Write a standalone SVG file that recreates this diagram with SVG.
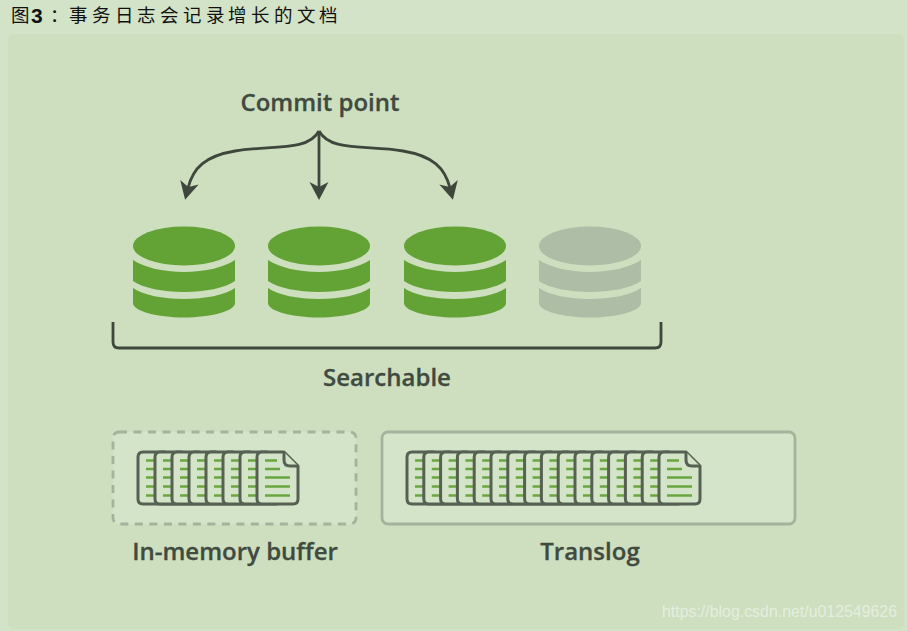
<svg xmlns="http://www.w3.org/2000/svg" width="907" height="631" viewBox="0 0 907 631">
<style>
.lbl{font-family:"Open Sans","Noto Sans",sans-serif;font-weight:600;font-size:24px;fill:#414a3f;text-anchor:middle;stroke:#414a3f;stroke-width:.3}
.ttl{font-family:"Noto Sans CJK SC",sans-serif;font-size:18.500px;fill:#111}
.conn{fill:none;stroke:#3f473d;stroke-width:2.8}
.box{fill:#d4e4c8;stroke:#a2b49b;stroke-width:2.8}
.d{fill:#d4e4c8;stroke:#566053;stroke-width:3;stroke-linejoin:round}
.dl{stroke:#6aa640;stroke-width:2.600;fill:none}
</style>
<defs>
<marker id="ah" markerUnits="userSpaceOnUse" markerWidth="22" markerHeight="22" refX="7" refY="11" orient="auto" viewBox="0 0 22 22"><path d="M1,1.500 L19,11 L1,20.500 L6,11 Z" fill="#3f473d"/></marker>
<g id="cyl">
<ellipse cx="51" cy="20" rx="51" ry="19.500"/>
<path d="M0,34 C10,41 30,46 51,46 C72,46 92,41 102,34 V55 C92,62 72,66 51,66 C30,66 10,62 0,55 Z"/>
<path d="M0,62 C10,69 30,73 51,73 C72,73 92,69 102,62 V77 C102,85 78,91.500 51,91.500 C24,91.500 0,85 0,77 Z"/>
</g>
<g id="doc">
<path class="d" d="M5,0 H27 L41,14 V47 Q41,52 36,52 H5 Q0,52 0,47 V5 Q0,0 5,0 Z"/>
<path class="d" d="M27,0 V8 Q27,14 33,14 H41" fill="none"/>
<path class="dl" d="M8,8.500H20 M8,17H23 M8,25.500H33 M8,34.500H33 M8,43.500H33"/>
</g>
</defs>
<rect id="page" width="907" height="631" fill="#d3e3c7"/>
<rect id="panel" x="8" y="34" width="896" height="595" rx="6" fill="#cddfbf"/>
<g id="title" class="ttl">
<text x="11" y="22">图</text>
<text x="31" y="23" style="font-family:'Liberation Sans',sans-serif;font-weight:700;font-size:21px;fill:#111">3</text>
<text x="50" y="22">：</text>
<text x="69 92 115 137 160 183 206 228 251 274 297 319" y="22">事务日志会记录增长的文档</text>
</g>
<g id="commit-point"><text class="lbl" x="320" y="111">Commit point</text></g>
<g id="connectors">
<path class="conn" marker-end="url(#ah)" d="M319,131 C308,152 270,145 235,151 C205,156 193,168 188,188"/>
<path class="conn" marker-end="url(#ah)" d="M319,131 V188"/>
<path class="conn" marker-end="url(#ah)" d="M319,131 C330,152 368,145 403,151 C433,156 445,168 450,188"/>
<path class="conn" d="M113,322 V342 Q113,348 119,348 H655 Q661,348 661,342 V322"/>
</g>
<g id="segment-1" fill="#63a335"><use href="#cyl" x="133" y="226"/></g>
<g id="segment-2" fill="#63a335"><use href="#cyl" x="268" y="226"/></g>
<g id="segment-3" fill="#63a335"><use href="#cyl" x="404" y="226"/></g>
<g id="segment-4" fill="#adbda6"><use href="#cyl" x="539" y="226"/></g>
<g id="searchable"><text class="lbl" x="387" y="386">Searchable</text></g>
<g id="buffer">
<rect class="box" x="113" y="432" width="243" height="92" rx="6" stroke-dasharray="8 6.500"/>
<use href="#doc" x="138" y="452"/><use href="#doc" x="155" y="452"/><use href="#doc" x="172" y="452"/><use href="#doc" x="189" y="452"/><use href="#doc" x="206" y="452"/><use href="#doc" x="223" y="452"/><use href="#doc" x="240" y="452"/><use href="#doc" x="257" y="452"/>
<text class="lbl" x="235" y="560">In-memory buffer</text>
</g>
<g id="translog">
<rect class="box" x="382" y="432" width="413" height="92" rx="6"/>
<use href="#doc" x="407" y="452"/><use href="#doc" x="423.800" y="452"/><use href="#doc" x="440.600" y="452"/><use href="#doc" x="457.400" y="452"/><use href="#doc" x="474.200" y="452"/><use href="#doc" x="491" y="452"/><use href="#doc" x="507.800" y="452"/><use href="#doc" x="524.600" y="452"/><use href="#doc" x="541.400" y="452"/><use href="#doc" x="558.200" y="452"/><use href="#doc" x="575" y="452"/><use href="#doc" x="591.800" y="452"/><use href="#doc" x="608.600" y="452"/><use href="#doc" x="625.400" y="452"/><use href="#doc" x="642.200" y="452"/><use href="#doc" x="659" y="452"/>
<text class="lbl" x="590" y="560">Translog</text>
</g>
<text id="watermark" x="662" y="617" style="font-family:'Liberation Sans',sans-serif;font-size:15.900px;fill:#e4eede">https://blog.csdn.net/u012549626</text>
</svg>
